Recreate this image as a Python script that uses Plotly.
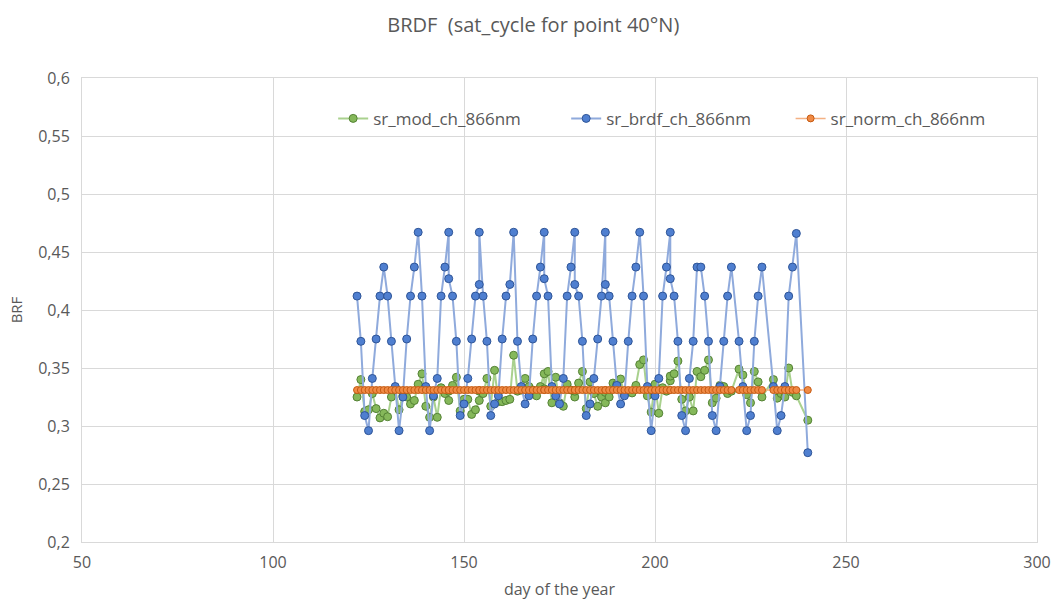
import plotly.graph_objects as go

days = [122, 123, 124, 125, 126, 127, 128, 129, 130, 131, 132, 133, 134, 135, 136, 137, 138, 139, 140,
        141, 142, 143, 144, 145, 146, 146, 147, 148, 149, 150, 151, 152, 153, 154, 154, 155, 156, 157,
        158, 159, 160, 161, 162, 163, 164, 165, 166, 167, 168, 169, 170, 171, 171, 172, 173, 174, 175,
        176, 177, 178, 179, 179, 180, 181, 182, 183, 184, 185, 186, 187, 187, 188, 189, 190, 191, 192,
        193, 194, 195, 196, 197, 198, 199, 200, 201, 202, 203, 204, 204, 205, 206, 207, 208, 209, 210,
        211, 212, 213, 214, 215, 216, 217, 218, 219, 220, 222, 223, 224, 225, 226, 227, 228, 231, 232,
        233, 234, 235, 236, 237, 240]

sr_brdf = [0.412, 0.373, 0.309, 0.296, 0.341, 0.375, 0.412, 0.437, 0.412, 0.373, 0.334, 0.296, 0.325,
           0.375, 0.412, 0.437, 0.467, 0.412, 0.334, 0.296, 0.326, 0.341, 0.412, 0.437, 0.467, 0.427,
           0.412, 0.373, 0.309, 0.319, 0.341, 0.375, 0.412, 0.422, 0.467, 0.412, 0.373, 0.309, 0.319,
           0.326, 0.375, 0.412, 0.422, 0.467, 0.373, 0.334, 0.319, 0.326, 0.375, 0.412, 0.437, 0.467,
           0.427, 0.412, 0.334, 0.326, 0.319, 0.341, 0.412, 0.437, 0.467, 0.422, 0.412, 0.373, 0.309,
           0.319, 0.341, 0.375, 0.412, 0.467, 0.422, 0.412, 0.373, 0.335, 0.319, 0.326, 0.373, 0.412,
           0.437, 0.467, 0.412, 0.334, 0.296, 0.326, 0.341, 0.412, 0.437, 0.467, 0.427, 0.412, 0.373,
           0.309, 0.296, 0.341, 0.373, 0.437, 0.437, 0.412, 0.373, 0.309, 0.296, 0.334, 0.373, 0.412,
           0.437, 0.373, 0.334, 0.296, 0.309, 0.373, 0.412, 0.437, 0.334, 0.296, 0.309, 0.334, 0.412,
           0.437, 0.466, 0.277]

sr_mod = [0.325, 0.340, 0.3125, 0.314, 0.328, 0.315, 0.307, 0.311, 0.308, 0.325, 0.332, 0.314, 0.326,
          0.325, 0.319, 0.322, 0.336, 0.345, 0.317, 0.3075, 0.325, 0.3075, 0.333, 0.328, 0.322, 0.330,
          0.335, 0.342, 0.313, 0.323, 0.323, 0.310, 0.314, 0.322, 0.330, 0.328, 0.341, 0.317, 0.348,
          0.321, 0.321, 0.322, 0.323, 0.361, 0.330, 0.331, 0.341, 0.334, 0.331, 0.326, 0.334, 0.345,
          0.332, 0.347, 0.320, 0.342, 0.320, 0.317, 0.336, 0.331, 0.325, 0.330, 0.337, 0.347, 0.315,
          0.338, 0.328, 0.317, 0.325, 0.320, 0.329, 0.325, 0.337, 0.336, 0.3405, 0.327, 0.3295, 0.3285,
          0.335, 0.353, 0.357, 0.326, 0.312, 0.336, 0.311, 0.333, 0.330, 0.339, 0.343, 0.345, 0.356,
          0.323, 0.313, 0.325, 0.313, 0.347, 0.3425, 0.348, 0.357, 0.320, 0.324, 0.335, 0.334, 0.328,
          0.330, 0.349, 0.344, 0.327, 0.320, 0.347, 0.338, 0.325, 0.340, 0.324, 0.328, 0.325, 0.350,
          0.329, 0.326, 0.305]

sr_norm = [0.331, 0.331, 0.331, 0.331, 0.331, 0.331, 0.331, 0.331, 0.331, 0.331, 0.331, 0.331, 0.331,
           0.331, 0.331, 0.331, 0.331, 0.331, 0.331, 0.331, 0.331, 0.331, 0.331, 0.331, 0.331, 0.331,
           0.331, 0.331, 0.331, 0.331, 0.331, 0.331, 0.331, 0.331, 0.331, 0.331, 0.331, 0.331, 0.331,
           0.331, 0.331, 0.331, 0.331, 0.331, 0.331, 0.331, 0.331, 0.331, 0.331, 0.331, 0.331, 0.331,
           0.331, 0.331, 0.331, 0.331, 0.331, 0.331, 0.331, 0.331, 0.331, 0.331, 0.331, 0.331, 0.331,
           0.331, 0.331, 0.331, 0.331, 0.331, 0.331, 0.331, 0.331, 0.331, 0.331, 0.331, 0.331, 0.331,
           0.331, 0.331, 0.331, 0.331, 0.331, 0.331, 0.331, 0.331, 0.331, 0.331, 0.331, 0.331, 0.331,
           0.331, 0.331, 0.331, 0.331, 0.331, 0.331, 0.331, 0.331, 0.331, 0.331, 0.331, 0.331, 0.331,
           0.331, 0.331, 0.331, 0.331, 0.331, 0.331, 0.331, 0.331, 0.331, 0.331, 0.331, 0.331, 0.331,
           0.331, 0.331, 0.331]

x_ticks = [50, 100, 150, 200, 250, 300]
y_ticks = [0.2, 0.25, 0.3, 0.35, 0.4, 0.45, 0.5, 0.55, 0.6]
y_tick_labels = ["0,2", "0,25", "0,3", "0,35", "0,4", "0,45", "0,5", "0,55", "0,6"]

FONT = "Open Sans"
TXT = "#595959"
GRID = "#d9d9d9"

fig = go.Figure()
fig.add_trace(go.Scatter(
    x=days, y=sr_mod, mode="lines+markers", name="sr_mod_ch_866nm",
    line=dict(color="#a9d18e", width=2),
    marker=dict(size=8, color="#85b85a", line=dict(color="#548235", width=1)),
    legend="legend", showlegend=True))
fig.add_trace(go.Scatter(
    x=days, y=sr_brdf, mode="lines+markers", name="sr_brdf_ch_866nm",
    line=dict(color="#8faadc", width=2),
    marker=dict(size=8, color="#4f7fd0", line=dict(color="#2f5597", width=1)),
    legend="legend2", showlegend=True))
fig.add_trace(go.Scatter(
    x=days, y=sr_norm, mode="lines+markers", name="sr_norm_ch_866nm",
    line=dict(color="#f4b183", width=1.5),
    marker=dict(size=7, color="#f08a45", line=dict(color="#c55a11", width=1)),
    legend="legend3", showlegend=True))

leg_common = dict(orientation="h", yanchor="middle", y=0.912, xanchor="left",
                  font=dict(family=FONT, size=17, color=TXT),
                  bgcolor="rgba(0,0,0,0)", itemwidth=30, visible=True)

fig.update_layout(
    width=1054, height=600,
    paper_bgcolor="white", plot_bgcolor="white",
    margin=dict(l=82, r=17, t=78, b=58),
    showlegend=True,
    title=dict(text="BRDF  (sat_cycle for point 40°N)", x=0.506, xref="container",
               y=1 - 25 / 600, yanchor="middle", xanchor="center",
               font=dict(family=FONT, size=20, color=TXT)),
    legend=dict(x=0.263, **leg_common),
    legend2=dict(x=0.507, **leg_common),
    legend3=dict(x=0.742, **leg_common),
    xaxis=dict(range=[50, 300], tickvals=x_ticks, showgrid=True, gridcolor=GRID, gridwidth=1,
               showline=True, linecolor=GRID, mirror=True, zeroline=False, automargin=False,
               ticks="", ticklabelstandoff=6, tickfont=dict(family=FONT, size=16, color=TXT),
               title=dict(text="day of the year", font=dict(family=FONT, size=16, color=TXT), standoff=22)),
    yaxis=dict(range=[0.2, 0.6], tickvals=y_ticks, ticktext=y_tick_labels, showgrid=True,
               gridcolor=GRID, gridwidth=1, showline=True, linecolor=GRID, mirror=True,
               zeroline=False, automargin=False, ticks="", ticklabelstandoff=8,
               tickfont=dict(family=FONT, size=16, color=TXT),
               title=dict(text="BRF", font=dict(family=FONT, size=15, color=TXT), standoff=11)),
    hovermode=False,
)

fig.write_html("out.html")
